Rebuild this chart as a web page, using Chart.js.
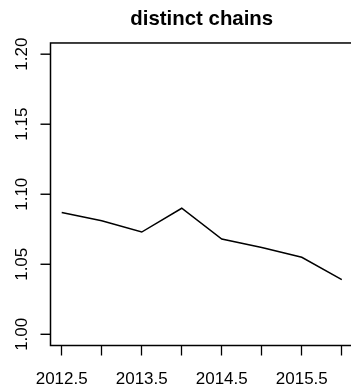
<!DOCTYPE html>
<html>
<head>
<meta charset="utf-8">
<script src="https://cdn.jsdelivr.net/npm/chart.js@4/dist/chart.umd.min.js"></script>
<style>
  html, body { margin: 0; padding: 0; background: #fff; overflow: hidden; }
  #wrap { width: 351px; height: 392px; overflow: hidden; }
  canvas { display: block; }
</style>
</head>
<body>
<div id="wrap"><canvas id="c" width="360" height="392"></canvas></div>
<script>
// Half-yearly observation points and the distinct-chains ratio at each
const years = [2012.5, 2013, 2013.5, 2014, 2014.5, 2015, 2015.5, 2016];
const chains = [1.087, 1.081, 1.073, 1.090, 1.068, 1.062, 1.055, 1.039];

// Axis ticks and the subset of x ticks that carry a label
const xTicks = [2012.5, 2013, 2013.5, 2014, 2014.5, 2015, 2015.5, 2016];
const xLabelled = [2012.5, 2013.5, 2014.5, 2015.5];
const yTicks = [1.00, 1.05, 1.10, 1.15, 1.20];

const FONT = '"Liberation Sans", Arial, Helvetica, sans-serif';
const TICK_LEN = 10;

// Box around the plotting region, y tick marks and vertical (rotated) y tick labels
const framePlugin = {
  id: 'frame',
  afterDraw(chart) {
    const ctx = chart.ctx;
    const a = chart.chartArea;
    const ys = chart.scales.y;
    ctx.save();
    ctx.strokeStyle = '#000';
    ctx.lineWidth = 1.5;
    ctx.strokeRect(a.left, a.top, a.right - a.left, a.bottom - a.top);

    ctx.fillStyle = '#000';
    for (const v of yTicks) {
      const py = ys.getPixelForValue(v);
      ctx.fillRect(a.left - TICK_LEN, py - 0.7, TICK_LEN, 1.4);
    }

    ctx.font = '17px ' + FONT;
    ctx.textAlign = 'center';
    ctx.textBaseline = 'alphabetic';
    for (const v of yTicks) {
      const py = ys.getPixelForValue(v);
      ctx.save();
      ctx.translate(27, py);
      ctx.rotate(-Math.PI / 2);
      ctx.fillText(v.toFixed(2), 0, 0);
      ctx.restore();
    }
    ctx.restore();
  }
};

new Chart(document.getElementById('c'), {
  type: 'line',
  data: {
    datasets: [{
      data: years.map((x, i) => ({ x: x, y: chains[i] })),
      borderColor: '#000',
      borderWidth: 1.5,
      pointRadius: 0,
      tension: 0,
      fill: false
    }]
  },
  options: {
    responsive: false,
    animation: false,
    layout: { padding: { left: 0, right: 7, top: 0, bottom: 0 } },
    plugins: {
      legend: { display: false },
      tooltip: { enabled: false },
      title: {
        display: true,
        text: 'distinct chains',
        fullSize: false,
        color: '#000',
        font: { family: FONT, size: 20.4, weight: 'bold', lineHeight: 1.2 },
        padding: { top: 6.7, bottom: 11.8 }
      }
    },
    scales: {
      x: {
        type: 'linear',
        min: 2012.36,
        max: 2016.14,
        afterBuildTicks: s => { s.ticks = xTicks.map(v => ({ value: v })); },
        afterFit: s => { s.height = 46.5; },
        border: { display: false },
        grid: {
          drawOnChartArea: false,
          drawTicks: true,
          tickLength: TICK_LEN,
          tickColor: '#000',
          tickWidth: 1.3
        },
        ticks: {
          autoSkip: false,
          maxRotation: 0,
          minRotation: 0,
          padding: 13.5,
          color: '#000',
          font: { family: FONT, size: 17 },
          callback: v => xLabelled.includes(v) ? v.toFixed(1) : ''
        }
      },
      y: {
        type: 'linear',
        min: 0.992,
        max: 1.208,
        afterBuildTicks: s => { s.ticks = yTicks.map(v => ({ value: v })); },
        afterFit: s => { s.width = 50.5; },
        border: { display: false },
        grid: { display: false },
        ticks: { display: false }
      }
    }
  },
  plugins: [framePlugin]
});
</script>
</body>
</html>
